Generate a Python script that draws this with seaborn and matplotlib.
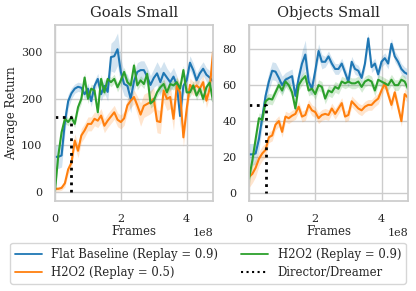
import matplotlib
matplotlib.use("Agg")
import matplotlib.pyplot as plt
from matplotlib.lines import Line2D
import numpy as np
import pandas as pd
import seaborn as sns

# frames (x 1e8), one point every 1e7 frames
frames = np.arange(49) * 1e7

# Goals Small
goals_flat = [75, 75, 78, 150, 195, 212, 222, 226, 224, 210, 222, 195, 228, 243, 210, 228, 215, 290, 292, 307,
              258, 232, 228, 200, 238, 258, 262, 262, 248, 230, 245, 255, 236, 256, 246, 236, 248, 230, 163, 228,
              240, 278, 262, 240, 255, 265, 252, 246, 238]
goals_flat_sd = [25, 25, 25, 25, 15, 12, 10, 10, 10, 10, 12, 12, 12, 12, 15, 15, 20, 30, 35, 35,
                 30, 25, 25, 30, 20, 20, 20, 20, 20, 20, 20, 25, 30, 25, 20, 20, 20, 20, 25, 20,
                 15, 15, 15, 15, 15, 15, 15, 15, 15]
goals_h05 = [6, 6, 8, 18, 48, 62, 110, 88, 121, 132, 146, 146, 157, 153, 164, 142, 153, 162, 171, 155,
             150, 158, 186, 196, 204, 186, 166, 185, 189, 193, 200, 152, 150, 218, 200, 204, 157, 229, 214, 117,
             178, 230, 222, 229, 222, 236, 196, 222, 301]
goals_h05_sd = [5, 5, 5, 8, 10, 12, 15, 15, 15, 15, 15, 15, 15, 15, 15, 15, 15, 15, 15, 15,
                15, 15, 15, 15, 15, 20, 25, 25, 25, 25, 25, 25, 25, 25, 25, 25, 25, 20, 20, 20,
                20, 15, 15, 15, 15, 15, 15, 15, 15]
goals_h09 = [2, 78, 128, 157, 150, 160, 146, 182, 200, 246, 200, 222, 218, 171, 243, 214, 243, 236, 243, 225,
             240, 258, 236, 229, 272, 229, 240, 232, 254, 190, 196, 214, 225, 232, 214, 232, 229, 236, 222, 262,
             214, 214, 229, 207, 222, 200, 225, 235, 195]
goals_h09_sd = [5, 10, 10, 10, 8, 8, 8, 10, 10, 10, 10, 10, 10, 10, 10, 10, 10, 10, 10, 10,
                10, 10, 10, 10, 10, 10, 10, 10, 10, 10, 10, 10, 10, 10, 10, 10, 10, 10, 10, 10,
                10, 10, 10, 10, 10, 10, 10, 10, 10]
goals_director = 160

# Objects Small
objects_flat = [21.5, 21.5, 22, 30, 42, 54, 62, 68, 67.5, 64, 60, 63, 64, 65, 54, 64, 72, 77, 62, 58,
                68, 79, 73, 73, 76, 72, 69, 69, 72, 67, 62, 73, 69, 68, 64, 72, 86, 70, 72, 66,
                73, 75, 72, 83, 76, 73, 69, 67, 66]
objects_flat_sd = [6, 6, 6, 6, 5, 5, 5, 5, 5, 5, 5, 4, 4, 4, 4, 5, 7, 8, 5, 4,
                   4, 4, 4, 3, 3, 3, 3, 3, 3, 3, 3, 3, 3, 3, 3, 3, 3, 3, 3, 3,
                   3, 3, 3, 3, 3, 3, 3, 3, 3]
objects_h05 = [9, 10.6, 14, 19, 22, 24, 31, 32, 38, 40, 34, 42.5, 41.6, 43, 44, 48, 42.5, 43.4, 49, 46,
               45, 41.6, 43.4, 44, 43.4, 47, 44, 47, 50, 42.5, 43.4, 51, 49, 47, 46, 48, 49, 49, 51, 52.5,
               57, 61, 55, 49, 56, 48, 40, 55, 53]
objects_h05_sd = [6, 5, 5, 4, 4, 4, 3, 3, 3, 3, 3, 3, 3, 3, 3, 3, 3, 3, 3, 3,
                  3, 3, 3, 3, 3, 3, 3, 3, 3, 3, 3, 3, 3, 3, 3, 3, 3, 3, 3, 3,
                  3, 3, 3, 3, 3, 3, 3, 3, 3]
objects_h09 = [8, 18, 30, 41.6, 40.7, 51, 52.5, 52, 56, 60, 57, 62, 60, 56, 47, 60, 63, 65, 57, 58,
               55, 60, 59, 52.5, 57, 56, 59, 58, 62, 61, 62, 61, 61, 62, 59, 62, 63, 62, 57, 63,
               62, 61, 60, 63, 60, 60, 63, 62, 58]
objects_h09_sd = [4, 4, 4, 3, 3, 3, 3, 3, 3, 3, 3, 3, 3, 3, 3, 3, 3, 3, 3, 3,
                  3, 3, 3, 3, 3, 3, 3, 3, 3, 3, 3, 3, 3, 3, 3, 3, 3, 3, 3, 3,
                  3, 3, 3, 3, 3, 3, 3, 3, 3]
objects_director = 49
director_frames = 0.5e8

labels = ['Flat Baseline (Replay = 0.9)', 'H2O2 (Replay = 0.5)', 'H2O2 (Replay = 0.9)']
colors = ['#1f77b4', '#ff7f0e', '#2ca02c']

sns.set_theme(style='whitegrid')
plt.rcParams['font.family'] = ['DejaVu Serif']

fig = plt.figure(figsize=(4.16, 2.91), dpi=100)
ax1 = fig.add_axes([55/416, 1-201/291, 158/416, 176/291])
ax2 = fig.add_axes([249/416, 1-201/291, 159/416, 176/291])


def draw_panel(ax, title, series, sds, director):
    for y, sd, lab, c in zip(series, sds, labels, colors):
        df = pd.DataFrame({'frames': frames, 'ret': y, 'sd': sd})
        ax.fill_between(df['frames'], df['ret'] - df['sd'], df['ret'] + df['sd'],
                        color=c, alpha=0.2, lw=0)
        sns.lineplot(data=df, x='frames', y='ret', ax=ax, color=c, lw=1.5, label=lab, legend=False)
    ax.plot([0, director_frames, director_frames], [director, director, 0],
            color='black', ls=':', lw=2)
    ax.set_xlim(0, 4.8e8)
    ax.set_title(title, fontsize=10.5)
    ax.set_xlabel('Frames', fontsize=8.5, labelpad=1)
    ax.tick_params(labelsize=8, pad=3)


draw_panel(ax1, 'Goals Small', [goals_flat, goals_h05, goals_h09],
           [goals_flat_sd, goals_h05_sd, goals_h09_sd], goals_director)
draw_panel(ax2, 'Objects Small', [objects_flat, objects_h05, objects_h09],
           [objects_flat_sd, objects_h05_sd, objects_h09_sd], objects_director)
ax1.set_ylabel('Average Return', fontsize=8.5, labelpad=2)
ax2.set_ylabel('')
ax1.set_yticks([0, 100, 200, 300])
ax2.set_yticks([0, 20, 40, 60, 80])
for ax in (ax1, ax2):
    ax.xaxis.get_offset_text().set_fontsize(8)

handles = [Line2D([], [], color=c, lw=1.3) for c in colors]
handles.append(Line2D([], [], color='black', ls=':', lw=1.5))
fig.legend([handles[0], handles[1], handles[2], handles[3]],
           [labels[0], labels[1], labels[2], 'Director/Dreamer'], ncol=2,
           loc='upper center', bbox_to_anchor=(0.5, 1-243/291),
           fontsize=8.4, frameon=True, handlelength=2.3, columnspacing=2.0,
           borderaxespad=0, labelspacing=0.45, borderpad=0.4)

fig.savefig('out.png', dpi=100)
